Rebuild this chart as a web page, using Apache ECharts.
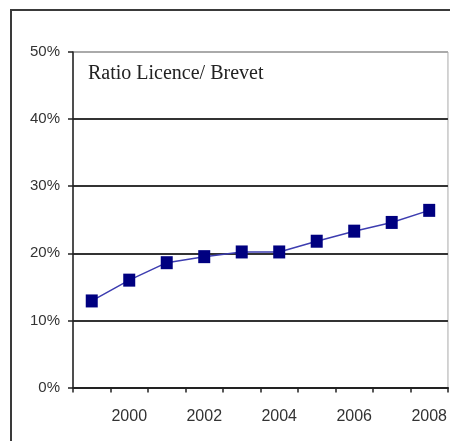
<!DOCTYPE html>
<html>
<head>
<meta charset="utf-8">
<script src="https://cdn.jsdelivr.net/npm/echarts@6/dist/echarts.min.js"></script>
<style>
  html, body { margin: 0; padding: 0; background: #fff; }
  #chart { width: 450px; height: 441px; }
</style>
</head>
<body>
<div id="chart"></div>
<script>
// data
var years = ['1999', '2000', '2001', '2002', '2003', '2004', '2005', '2006', '2007', '2008'];
var ratio = [12.9, 16.0, 18.6, 19.5, 20.2, 20.2, 21.8, 23.3, 24.6, 26.4];
var chartTitle = 'Ratio Licence/ Brevet';

var chart = echarts.init(document.getElementById('chart'));

var option = {
  animation: false,
  backgroundColor: '#fff',
  grid: {
    left: 73,
    right: 2,
    top: 52,
    bottom: 53.5,
    show: true,
    borderColor: '#aaa',
    borderWidth: 1
  },
  graphic: [
    {
      type: 'rect',
      shape: { x: 11, y: 10, width: 600, height: 600 },
      style: { fill: null, stroke: '#3a3a3a', lineWidth: 2 },
      z: 10
    },
    {
      type: 'text',
      left: 88,
      top: 64,
      style: {
        text: chartTitle,
        font: '20px "Liberation Serif", serif',
        fill: '#222'
      }
    }
  ],
  xAxis: {
    type: 'category',
    data: years,
    boundaryGap: true,
    axisLine: { lineStyle: { color: '#222', width: 2 } },
    axisTick: { show: true, interval: 0, length: 5, lineStyle: { color: '#222', width: 1.5 } },
    axisLabel: {
      interval: function (index) { return index % 2 === 1; },
      margin: 21,
      fontSize: 16,
      fontFamily: '"Liberation Sans", Arial, sans-serif',
      color: '#333'
    },
    splitLine: { show: false }
  },
  yAxis: {
    type: 'value',
    min: 0,
    max: 50,
    interval: 10,
    axisLine: { show: true, lineStyle: { color: '#222', width: 1.5 } },
    axisTick: { show: true, length: 5, lineStyle: { color: '#222', width: 1.5 } },
    axisLabel: {
      formatter: '{value}%',
      margin: 13,
      fontSize: 15,
      fontFamily: '"Liberation Sans", Arial, sans-serif',
      color: '#333'
    },
    splitLine: {
      show: true,
      lineStyle: { color: ['#333', '#333', '#333', '#333', '#333', '#aaa'], width: 2 }
    }
  },
  series: [{
    name: chartTitle,
    type: 'line',
    data: ratio,
    symbol: 'rect',
    symbolSize: [12, 13],
    itemStyle: { color: '#000080' },
    lineStyle: { color: '#3d3db0', width: 1.5 },
    z: 5
  }]
};

chart.setOption(option);
</script>
</body>
</html>
